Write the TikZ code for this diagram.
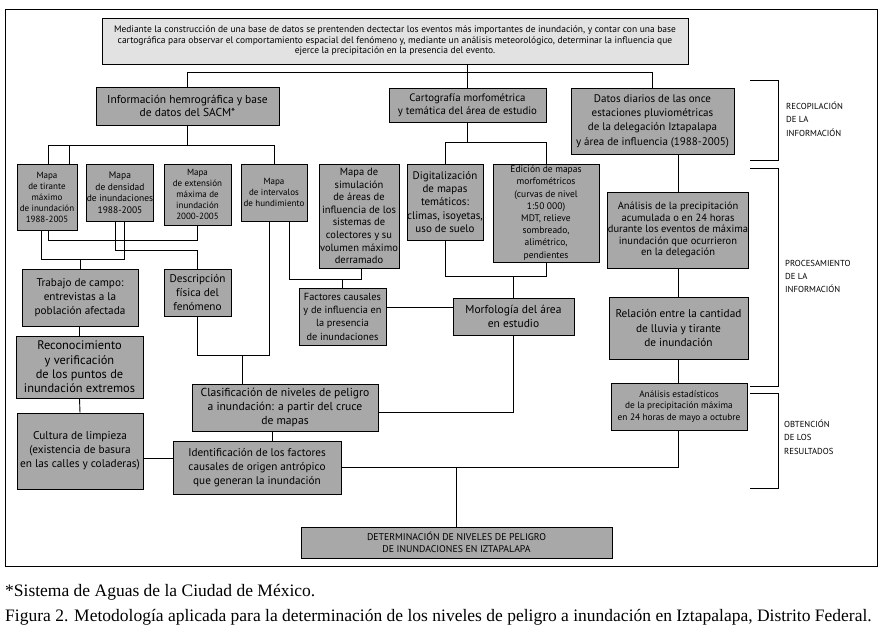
\documentclass[tikz,border=0pt]{standalone}
\usepackage{fontspec}
\setmainfont{PT Sans}
\newfontfamily\capfont{Liberation Serif}
\definecolor{boxgray}{HTML}{A8A8A8}
\definecolor{lightgray}{HTML}{E2E2E2}
\newcommand{\fz}[2]{\fontsize{#1}{#2}\selectfont}
\begin{document}
\begin{tikzpicture}[x=1pt,y=-1pt,
  box/.style={draw, fill=boxgray, align=center, inner sep=0pt, line width=0.9pt},
  conn/.style={line width=0.9pt},
  brk/.style={line width=0.9pt},
  lbl/.style={anchor=north west, align=left, inner sep=0pt, font=\fz{8.7}{13.2}}]
\useasboundingbox (0,0) rectangle (883,633);
\draw[line width=0.9pt] (5,9) rectangle (877,566);
% boxes
\node[box, fill=lightgray, minimum width=586pt, minimum height=46pt, font=\fz{9.5}{10.5}] (top) at (395,41) {Mediante la construcción de una base de datos se prentenden dectectar los eventos más importantes de inundación, y contar con una base\\ cartográfica para observar el comportamiento espacial del fenómeno y, mediante un análisis meteorológico, determinar la influencia que\\ ejerce la precipitación en la presencia del evento.};
\node[box, minimum width=183pt, minimum height=38pt, font=\fz{11.5}{13.5}] (info) at (187.5,106) {Información hemrográfica y base\\de datos del SACM*};
\node[box, minimum width=157pt, minimum height=34pt, font=\fz{10.8}{13.5}] (carto) at (467.5,105) {Cartografía morfométrica\\y temática del área de estudio};
\node[box, minimum width=163pt, minimum height=66pt, font=\fz{11}{14.3}] (datos) at (652.5,121) {Datos diarios de las once\\estaciones pluviométricas\\de la delegación Iztapalapa\\y área de influencia (1988-2005)};
\node[box, minimum width=60pt, minimum height=66pt, font=\fz{9}{11}] (tirante) at (47,197) {Mapa\\de tirante\\máximo\\de inundación\\1988-2005};
\node[box, minimum width=66pt, minimum height=57pt, font=\fz{9.5}{11.5}] (densidad) at (120,192.5) {Mapa\\de densidad\\de inundaciones\\1988-2005};
\node[box, minimum width=67pt, minimum height=61pt, font=\fz{9}{11}] (extension) at (197.5,194.5) {Mapa\\de extensión\\máxima de\\inundación\\2000-2005};
\node[box, minimum width=66pt, minimum height=57pt, font=\fz{9}{11}] (intervalos) at (274,192.5) {Mapa\\de intervalos\\de hundimiento};
\node[box, minimum width=80pt, minimum height=104pt, font=\fz{10.5}{12.6}] (simul) at (359,216) {Mapa de\\simulación\\de áreas de\\influencia de los\\sistemas de\\colectores y su\\volumen máximo\\derramado};
\node[box, minimum width=76pt, minimum height=76pt, font=\fz{11}{13.3}] (digital) at (445,202) {Digitalización\\de mapas\\temáticos:\\climas, isoyetas,\\uso de suelo};
\node[box, minimum width=106pt, minimum height=98pt, font=\fz{9.5}{12.2}] (edicion) at (546,213) {Edición de mapas\\morfométricos\\(curvas de nivel\\1:50 000)\\MDT, relieve\\sombreado,\\alimétrico,\\pendientes};
\node[box, minimum width=136pt, minimum height=76pt, font=\fz{10.5}{11.6}] (analp) at (678,230) {Análisis de la precipitación\\acumulada o en 24 horas\\durante los eventos de máxima\\inundación que ocurrieron\\en la delegación};
\node[box, minimum width=116pt, minimum height=57pt, font=\fz{11.2}{14}] (trabajo) at (80,297.5) {Trabajo de campo:\\entrevistas a la\\población afectada};
\node[box, minimum width=67pt, minimum height=47pt, font=\fz{11.2}{14}] (descr) at (197.5,292.5) {Descripción\\física del\\fenómeno};
\node[box, minimum width=87pt, minimum height=57pt, font=\fz{10.3}{13.3}] (factores) at (342.5,316.5) {Factores causales\\y de influencia en\\la presencia\\de inundaciones};
\node[box, minimum width=121pt, minimum height=37pt, font=\fz{11.5}{13.3}] (morfo) at (513.5,316.5) {Morfología del área\\en estudio};
\node[box, minimum width=139pt, minimum height=62pt, font=\fz{11.3}{14.3}] (relacion) at (678.5,328) {Relación entre la cantidad\\de lluvia y tirante\\de inundación};
\node[box, minimum width=127pt, minimum height=62pt, font=\fz{12.4}{14.3}] (recon) at (79.5,367) {Reconocimiento\\y verificación\\de los puntos de\\inundación extremos};
\node[box, minimum width=186pt, minimum height=47pt, font=\fz{11.6}{14.3}] (clasif) at (285,407.5) {Clasificación de niveles de peligro\\a inundación: a partir del cruce\\de mapas};
\node[box, minimum width=136pt, minimum height=47pt, font=\fz{9.3}{11.7}] (estad) at (679,406.5) {Análisis estadísticos\\de la precipitación máxima\\en 24 horas de mayo a octubre};
\node[box, minimum width=126pt, minimum height=76pt, font=\fz{11.3}{14}] (cultura) at (80,451) {Cultura de limpieza\\(existencia de basura\\en las calles y coladeras)};
\node[box, minimum width=168pt, minimum height=53pt, font=\fz{11.2}{13.7}] (ident) at (257,467.5) {Identificación de los factores\\causales de origen antrópico\\que generan la inundación};
\node[box, minimum width=311pt, minimum height=31pt, font=\fz{9.8}{11.5}] (det) at (456.5,542.5) {DETERMINACIÓN DE NIVELES DE PELIGRO\\DE INUNDACIONES EN IZTAPALAPA};
% connectors
\coordinate (h1) at (0,72);
\draw[conn] (info.north) -- (info.north |- h1) -- (datos.north |- h1) -- (datos.north);
\draw[conn] (carto.north |- top.south) -- (carto.north);
\coordinate (h2) at (0,145);
\draw[conn] (info.south) -- (info.south |- h2);
\draw[conn] ([xshift=1pt]tirante.north) -- ([xshift=1pt]tirante.north |- h2) -- (intervalos.north |- h2) -- (intervalos.north);
\draw[conn] ([xshift=22pt]tirante.north) -- ([xshift=22pt]tirante.north |- h2);
\coordinate (h3) at (0,259);
\draw[conn] ([xshift=-6pt]tirante.south) -- ([xshift=-6pt]tirante.south |- h3) -- ([xshift=4pt]densidad.south |- h3) -- ([xshift=4pt]densidad.south);
\draw[conn] (trabajo.north) -- (trabajo.north |- h3);
\coordinate (h4) at (0,240);
\draw[conn] ([xshift=1pt]tirante.south) -- ([xshift=1pt]tirante.south |- h4) -- (extension.south |- h4) -- (extension.south);
\coordinate (h5) at (0,250);
\draw[conn] ([xshift=-5pt]densidad.south) -- ([xshift=-5pt]densidad.south |- h5) -- (descr.north |- h5) -- (descr.north);
\coordinate (h6) at (0,279);
\draw[conn] ([xshift=15pt]intervalos.south) -- ([xshift=15pt]intervalos.south |- h6) -- ([xshift=2pt]simul.south |- h6) -- ([xshift=2pt]simul.south);
\draw[conn] (factores.north) -- (factores.north |- h6);
\coordinate (h7) at (0,355);
\draw[conn] ([xshift=-5pt]intervalos.south) -- ([xshift=-5pt]intervalos.south |- h7) -- (descr.south |- h7) -- (descr.south);
\draw[conn] ([xshift=-43pt]clasif.north) -- ([xshift=-43pt]clasif.north |- h7);
\coordinate (h8) at (0,142);
\draw[conn] (carto.south) -- (carto.south |- h8);
\draw[conn] (digital.north) -- (digital.north |- h8) -- (edicion.north |- h8) -- (edicion.north);
\coordinate (h9) at (0,276);
\draw[conn] (digital.south) -- (digital.south |- h9) -- (edicion.south |- h9) -- (edicion.south);
\draw[conn] (morfo.north) -- (morfo.north |- h9);
\coordinate (h10) at (0,307);
\draw[conn] (factores.east |- h10) -- (morfo.west |- h10);
\coordinate (h11) at (0,412);
\draw[conn] (morfo.south) -- (morfo.south |- h11) -- (clasif.east |- h11);
\draw[conn] ([xshift=-13pt]clasif.south) -- ([xshift=15pt]ident.north);
\draw[conn] (trabajo.south) -- (trabajo.south -| recon.north) -- (recon.north);
\draw[conn] (recon.south) -- (cultura.north);
\coordinate (h12) at (0,458);
\draw[conn] (cultura.east |- h12) -- (ident.west |- h12);
\draw[conn] (analp.north |- datos.south) -- (analp.north);
\draw[conn] (analp.south) -- (analp.south |- relacion.north);
\draw[conn] (analp.south |- relacion.south) -- (analp.south |- estad.north);
\coordinate (h13) at (0,467);
\draw[conn] (analp.south |- estad.south) -- (analp.south |- h13) -- (ident.east |- h13);
\draw[conn] (det.north) -- (det.north |- h13);
% brackets
\draw[brk] (750,80) -- (778,80) -- (778,160) -- (750,160);
\draw[brk] (750,168) -- (778,168) -- (778,386) -- (750,386);
\draw[brk] (750,393) -- (778,393) -- (778,488) -- (750,488);
\node[lbl] (l1) at (786,102) {RECOPILACIÓN\\DE LA\\INFORMACIÓN};
\node[lbl] (l2) at (785,260) {PROCESAMIENTO\\DE LA\\INFORMACIÓN};
\node[lbl] (l3) at (784,420) {OBTENCIÓN\\DE LOS\\RESULTADOS};
% caption
\node[anchor=west, inner sep=0pt, font=\capfont\fz{17.5}{19}] (c1) at (5,592) {*Sistema de Aguas de la Ciudad de México.};
\node[anchor=west, inner sep=0pt, font=\capfont\fz{17.5}{19}] (c2) at (5,617) {Figura 2. Metodología aplicada para la determinación de los niveles de peligro a inundación en Iztapalapa, Distrito Federal.};
\end{tikzpicture}
\end{document}
